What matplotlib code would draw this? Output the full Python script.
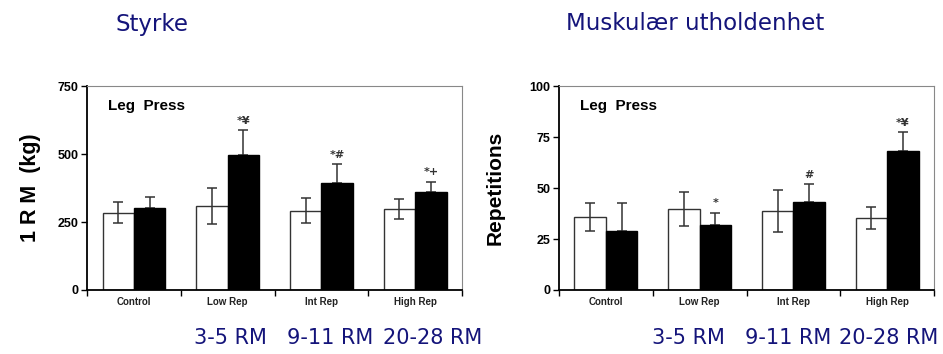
import numpy as np
import matplotlib
matplotlib.use('Agg')
import matplotlib.pyplot as plt

plt.rcParams['font.family'] = ['Liberation Sans', 'DejaVu Sans']

groups = ['Control', 'Low Rep', 'Int Rep', 'High Rep']
rm_labels = ['3-5 RM', '9-11 RM', '20-28 RM']

# styrke (1RM, kg): pre (hvit) og post (svart)
rm_pre = [284, 310, 291, 297]
rm_pre_err = [38, 67, 46, 36]
rm_post = [301, 496, 394, 360]
rm_post_err = [42, 94, 70, 39]
rm_marks = ['', '*¥', '*#', '*+']

# muskulær utholdenhet (repetisjoner)
rep_pre = [35.7, 39.9, 38.9, 35.2]
rep_pre_err = [6.8, 8.3, 10.3, 5.4]
rep_post = [29.1, 32.1, 43.0, 68.4]
rep_post_err = [13.6, 5.9, 9.0, 8.9]
rep_marks = ['', '*', '#', '*¥']

navy = '#14147a'

fig = plt.figure(figsize=(9.43, 3.54), dpi=100)
ax1 = fig.add_axes([0.0923, 0.1808, 0.3977, 0.576])
ax2 = fig.add_axes([0.5928, 0.1808, 0.3977, 0.576])


def panel(ax, pre, pre_err, post, post_err, marks, ymax, yticks, ylabel, lsize, lpad):
    x = np.arange(len(groups))
    w = 0.335
    ax.bar(x - w, pre, width=w, align='edge', color='white', edgecolor='#333333', linewidth=1.0, zorder=2)
    ax.bar(x, post, width=w, align='edge', color='black', edgecolor='black', linewidth=1.0, zorder=2)
    ax.errorbar(x - w / 2, pre, yerr=pre_err, fmt='none', ecolor='#333333', elinewidth=1.1, capsize=3.5, capthick=1.1, zorder=3)
    ax.errorbar(x + w / 2, post, yerr=[np.zeros(len(post)), post_err], fmt='none', ecolor='#333333', elinewidth=1.1, capsize=3.5, capthick=1.1, zorder=1)
    for i in range(len(groups)):
        if marks[i]:
            ax.text(x[i] + w / 2, post[i] + post_err[i] + ymax * 0.02, marks[i], ha='center', va='bottom',
                    fontsize=8, color='#333333', family='DejaVu Sans', fontweight='bold')
    ax.set_xlim(-0.5, 3.5)
    ax.set_ylim(0, ymax)
    ax.set_xticks([-0.5, 0.5, 1.5, 2.5, 3.5])
    ax.set_xticklabels([])
    ax.set_xticks(x, minor=True)
    ax.set_xticklabels(groups, minor=True, fontsize=7, fontweight='bold', color='#222222')
    ax.tick_params(axis='x', which='minor', length=0, pad=5)
    ax.tick_params(axis='x', which='major', length=4, width=1.0, direction='out')
    ax.set_yticks(yticks)
    ax.tick_params(axis='y', length=4, width=1.0, labelsize=9, pad=2)
    for lab in ax.get_yticklabels():
        lab.set_fontweight('bold')
    ax.spines['left'].set_linewidth(1.3)
    ax.spines['bottom'].set_linewidth(1.3)
    ax.spines['top'].set_color('#888888')
    ax.spines['right'].set_color('#888888')
    ax.set_ylabel(ylabel, fontsize=lsize, fontweight='bold', labelpad=lpad)
    ax.text(0.055, 0.9, 'Leg  Press', transform=ax.transAxes, fontsize=11, fontweight='bold', va='center')


panel(ax1, rm_pre, rm_pre_err, rm_post, rm_post_err, rm_marks, 750, [0, 250, 500, 750], '1 R M  (kg)', 15.5, 12)
panel(ax2, rep_pre, rep_pre_err, rep_post, rep_post_err, rep_marks, 100, [0, 25, 50, 75, 100], 'Repetitions', 15, 18)

fig.text(152 / 943, 1 - 24 / 354, 'Styrke', ha='center', va='center', fontsize=16.5, color=navy, family='DejaVu Sans')
fig.text(695 / 943, 1 - 24 / 354, 'Muskulær utholdenhet', ha='center', va='center', fontsize=16.5, color=navy, family='DejaVu Sans')

for xs in ([230, 330, 433], [688, 788, 889]):
    for xp, lab in zip(xs, rm_labels):
        fig.text(xp / 943, 1 - 338 / 354, lab, ha='center', va='center', fontsize=15, color=navy, family='DejaVu Sans')

fig.savefig('out.png', dpi=100)
